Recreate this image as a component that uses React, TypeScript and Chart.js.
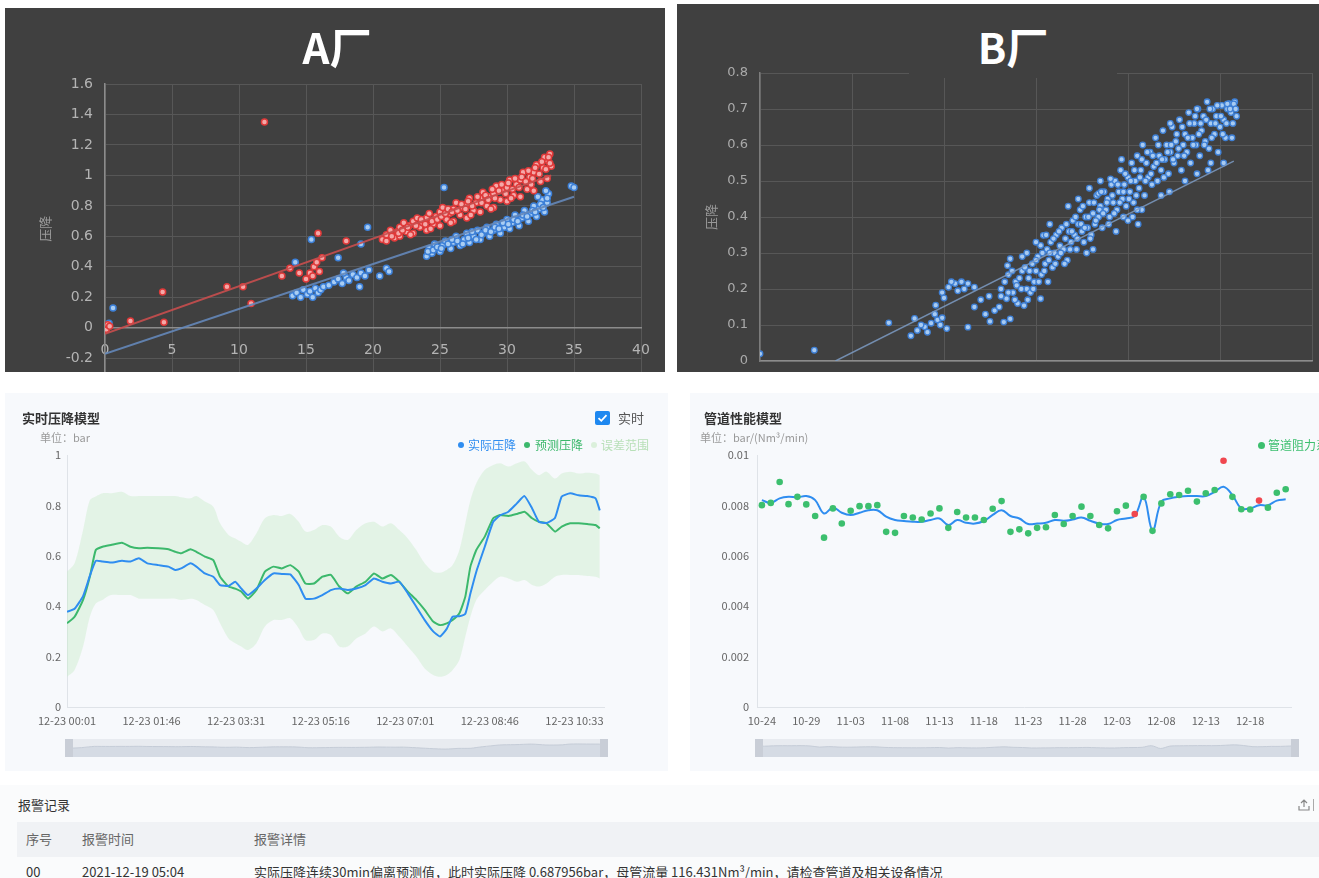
import React, { useEffect, useRef } from 'react';
import { Chart, registerables } from 'chart.js';

Chart.register(...registerables);

type P = [number, number];
const xy = (pts: P[]) => pts.map(([x, y]) => ({ x, y }));
const CJK = '"Noto Sans CJK SC", "Noto Sans", sans-serif';
const NUM = '"DejaVu Sans", sans-serif';

// ---------------- A厂 ----------------
const aYTicks = [-0.2, 0, 0.2, 0.4, 0.6, 0.8, 1, 1.2, 1.4, 1.6];
const aYLabels = ['-0.2', '0', '0.2', '0.4', '0.6', '0.8', '1', '1.2', '1.4', '1.6'];
const aRedPoints: P[] = [
  [0, 0], [0.1, -0.01], [0.2, 0.02], [0.35, 0.01], [1.9, 0.045], [4.3, 0.235], [4.4, 0.037], [9.1, 0.27],
  [10.3, 0.27], [10.9, 0.16], [11.9, 1.35], [13.2, 0.34], [13.8, 0.39], [14.5, 0.36], [15.0, 0.32], [15.3, 0.36],
  [15.5, 0.34], [15.6, 0.4], [15.8, 0.43], [15.9, 0.62], [16.2, 0.46], [16.0, 0.37], [18.0, 0.57], [20.7, 0.58],
  [21, 0.57], [21, 0.61], [21.3, 0.64], [21.6, 0.59], [21.8, 0.63], [22, 0.6], [22, 0.66], [22.3, 0.69],
  [22.5, 0.63], [22.7, 0.67], [23, 0.62], [23, 0.7], [23.3, 0.72], [23.5, 0.66], [23.7, 0.69], [24, 0.64],
  [24, 0.72], [24.2, 0.75], [24.5, 0.68], [24.7, 0.73], [25, 0.67], [25, 0.76], [25.2, 0.79], [25.5, 0.71],
  [25.7, 0.75], [26, 0.7], [26, 0.78], [26.2, 0.82], [26.5, 0.74], [26.7, 0.79], [27, 0.72], [27, 0.81],
  [27.2, 0.85], [27.5, 0.77], [27.7, 0.82], [28, 0.76], [28, 0.85], [28.2, 0.89], [28.5, 0.8], [28.7, 0.86],
  [29, 0.79], [29, 0.88], [29.2, 0.93], [29.5, 0.84], [29.7, 0.9], [30, 0.83], [30, 0.92], [30.2, 0.97],
  [30.5, 0.87], [30.7, 0.94], [31, 0.86], [31, 0.97], [31.2, 1.02], [31.5, 0.91], [31.7, 0.99], [32, 0.9],
  [32, 1.02], [32.2, 1.07], [32.5, 0.96], [32.7, 1.05], [33, 0.98], [33, 1.1], [33.2, 1.14], [33.3, 1.06],
  [32.8, 1.12], [31.8, 0.94], [30.3, 0.85], [28.8, 0.78], [27.3, 0.74], [25.8, 0.69], [24.3, 0.65], [22.8, 0.61],
  [21.4, 0.6], [21.9, 0.62], [22.2, 0.64], [22.6, 0.66], [23.2, 0.67], [23.6, 0.71], [23.9, 0.68], [24.4, 0.7],
  [24.8, 0.71], [25.1, 0.73], [25.4, 0.75], [25.6, 0.78], [25.9, 0.76], [26.3, 0.77], [26.6, 0.81], [26.9, 0.78],
  [27.1, 0.83], [27.4, 0.8], [27.8, 0.86], [28.1, 0.82], [28.4, 0.87], [28.6, 0.84], [28.9, 0.91], [29.1, 0.85],
  [29.4, 0.9], [29.6, 0.94], [29.9, 0.88], [30.1, 0.95], [30.4, 0.91], [30.6, 0.98], [30.9, 0.92], [31.1, 0.99],
  [31.4, 0.96], [31.6, 1.03], [31.9, 0.98], [32.1, 1.05], [32.4, 1.01], [32.6, 1.09], [32.9, 1.04], [33.1, 1.12],
  [33.2, 1.08],
];
const aBluePoints: P[] = [
  [0.6, 0.13], [0.3, 0.03], [14.2, 0.43], [15.4, 0.58], [14.0, 0.21], [14.3, 0.23], [14.6, 0.2], [14.8, 0.25],
  [15.1, 0.22], [15.3, 0.24], [15.5, 0.2], [15.7, 0.26], [15.9, 0.23], [16.1, 0.25], [16.3, 0.27], [16.7, 0.28],
  [17.4, 0.46], [17.1, 0.3], [17.4, 0.32], [17.7, 0.29], [18, 0.33], [18.2, 0.31], [18.5, 0.35], [18.8, 0.33],
  [19.1, 0.36], [19.4, 0.34], [19.7, 0.38], [17.8, 0.36], [19, 0.27], [19.1, 0.55], [19.6, 0.66], [20.5, 0.34],
  [21, 0.39], [21.2, 0.37],
  [24, 0.47], [24.2, 0.52], [24.4, 0.49], [24.6, 0.55], [25, 0.5], [25.2, 0.54], [25.4, 0.57], [25.3, 0.92],
  [25.8, 0.52], [26, 0.56], [26.2, 0.6], [26.5, 0.54], [26.8, 0.58], [27, 0.62], [27.2, 0.56], [27.5, 0.6],
  [27.8, 0.64], [28, 0.58], [28.2, 0.62], [28.5, 0.66], [28.7, 0.6], [29, 0.64], [29.2, 0.68], [29.5, 0.62],
  [29.8, 0.66], [30, 0.71], [30.2, 0.65], [30.4, 0.69], [30.6, 0.74], [30.9, 0.67], [31.1, 0.72], [31.3, 0.77],
  [31.6, 0.7], [31.8, 0.75], [32, 0.8], [32.2, 0.73], [32.4, 0.78], [32.6, 0.84], [32.8, 0.76], [33, 0.82],
  [33.1, 0.88], [32.9, 0.9], [34.8, 0.93], [35, 0.92],
  [24.1, 0.5], [24.5, 0.51], [24.8, 0.53], [25.1, 0.52], [25.6, 0.55], [25.9, 0.58], [26.3, 0.57], [26.7, 0.55],
  [27.1, 0.59], [27.4, 0.63], [27.7, 0.58], [28.1, 0.61], [28.4, 0.64], [28.8, 0.63], [29.1, 0.66], [29.4, 0.65],
  [29.7, 0.69], [30.1, 0.68], [30.5, 0.71], [30.8, 0.7], [31.2, 0.74], [31.5, 0.73], [31.9, 0.77], [32.1, 0.76],
  [32.5, 0.81], [32.7, 0.79], [33.0, 0.85], [32.3, 0.86],
];
const aRedTrend: P[] = [[0, -0.04], [33.3, 1.0]];
const aBlueTrend: P[] = [[0, -0.17], [35, 0.86]];

// ---------------- B厂 ----------------
const bPoints: P[] = [
  [0, 0.02], [0.59, 0.03], [1.4, 0.106], [1.68, 0.118], [1.91, 0.155], [1.64, 0.07], [1.71, 0.085], [1.79, 0.095],
  [1.86, 0.105], [1.93, 0.114], [1.98, 0.12], [2.03, 0.09], [1.82, 0.08], [1.96, 0.1], [1.75, 0.1], [1.9, 0.13],
  [2.26, 0.094], [1.98, 0.19], [2.05, 0.205], [2.12, 0.215], [2.19, 0.22], [2.26, 0.215], [2.33, 0.205], [2.15, 0.195],
  [2.0, 0.175], [2.08, 0.22], [2.22, 0.2], [2.33, 0.15], [2.4, 0.17], [2.49, 0.18], [2.45, 0.13], [2.5, 0.11], [2.55, 0.14],
  [2.6, 0.15], [2.62, 0.2], [2.65, 0.108], [2.68, 0.173], [2.7, 0.24], [2.72, 0.117], [2.72, 0.284], [2.69, 0.265],
  [2.75, 0.19], [2.78, 0.22], [2.79, 0.21], [2.8, 0.16], [2.85, 0.25], [2.87, 0.154], [2.9, 0.2], [2.92, 0.23],
  [2.94, 0.19], [2.96, 0.27], [2.98, 0.22], [3.0, 0.25], [3.02, 0.29], [3.05, 0.173], [3.05, 0.321], [3.08, 0.349],
  [3.06, 0.24], [3.1, 0.27], [3.12, 0.31], [3.14, 0.28], [3.16, 0.33], [3.18, 0.26], [3.2, 0.3], [3.22, 0.35],
  [3.24, 0.29], [3.26, 0.32], [3.28, 0.37], [3.3, 0.31], [3.32, 0.34], [3.34, 0.28], [3.36, 0.36], [3.38, 0.33],
  [3.4, 0.39], [3.42, 0.35], [3.44, 0.31], [3.46, 0.38], [3.48, 0.42], [3.5, 0.36], [3.52, 0.33], [3.54, 0.4],
  [3.56, 0.37], [3.58, 0.44], [3.6, 0.35], [3.62, 0.41], [3.64, 0.38], [3.66, 0.46], [3.68, 0.4], [3.7, 0.43],
  [3.72, 0.37], [3.74, 0.47], [3.76, 0.42], [3.78, 0.45], [3.8, 0.4], [3.82, 0.49], [3.84, 0.44], [3.86, 0.5],
  [3.88, 0.42], [3.9, 0.47], [3.92, 0.53], [3.94, 0.45], [3.96, 0.49], [3.98, 0.43], [4.0, 0.51], [4.02, 0.47],
  [4.04, 0.55], [4.06, 0.44], [4.08, 0.5], [4.1, 0.57], [4.12, 0.48], [4.14, 0.53], [4.16, 0.6], [4.18, 0.46],
  [4.2, 0.55], [4.22, 0.51], [4.24, 0.58], [4.26, 0.49], [4.28, 0.54], [4.3, 0.62], [4.32, 0.5], [4.34, 0.57],
  [4.36, 0.53], [4.38, 0.64], [4.4, 0.56], [4.42, 0.6], [4.44, 0.52], [4.46, 0.58], [4.48, 0.65], [4.5, 0.55],
  [4.52, 0.61], [4.54, 0.57], [4.56, 0.67], [4.58, 0.53], [4.6, 0.6], [4.62, 0.63], [4.64, 0.58], [4.66, 0.69],
  [4.68, 0.55], [4.7, 0.62], [4.72, 0.66], [4.74, 0.6], [4.76, 0.7], [4.78, 0.57], [4.8, 0.64], [4.82, 0.68],
  [4.84, 0.61], [4.86, 0.72], [4.88, 0.59], [4.9, 0.66], [4.92, 0.7], [4.94, 0.63], [4.96, 0.68], [4.98, 0.58],
  [5.0, 0.65], [5.02, 0.71], [5.04, 0.67], [5.06, 0.62], [5.08, 0.7], [5.1, 0.715], [5.12, 0.69], [5.14, 0.66],
  [5.16, 0.72], [5.18, 0.68], [5.04, 0.55], [3.35, 0.43], [3.58, 0.48], [3.93, 0.56], [4.05, 0.4], [3.7, 0.5],
  [4.45, 0.47], [4.75, 0.52], [4.9, 0.55], [3.15, 0.38], [3.0, 0.33], [2.9, 0.3], [3.55, 0.3], [4.15, 0.42],
  [4.0, 0.39], [3.95, 0.4], [4.1, 0.42], [3.81, 0.506], [3.68, 0.465], [4.46, 0.66], [4.75, 0.7], [5.08, 0.714],
  [5.15, 0.714],
  [2.62, 0.18], [2.66, 0.22], [2.7, 0.19], [2.74, 0.25], [2.77, 0.17], [2.82, 0.23], [2.84, 0.2], [2.88, 0.26],
  [2.91, 0.17], [2.93, 0.25], [2.97, 0.2], [3.0, 0.28], [3.03, 0.22], [3.07, 0.3], [3.09, 0.25], [3.13, 0.22],
  [3.15, 0.3], [3.19, 0.34], [3.21, 0.27], [3.25, 0.36], [3.27, 0.3], [3.31, 0.27], [3.33, 0.38], [3.37, 0.31],
  [3.39, 0.36], [3.43, 0.4], [3.45, 0.34], [3.49, 0.38], [3.51, 0.43], [3.53, 0.37], [3.57, 0.4], [3.59, 0.34],
  [3.63, 0.44], [3.65, 0.39], [3.69, 0.42], [3.71, 0.47], [3.73, 0.41], [3.77, 0.44], [3.79, 0.38], [3.83, 0.46],
  [3.85, 0.41], [3.89, 0.49], [3.91, 0.44], [3.95, 0.47], [3.97, 0.52], [4.01, 0.45], [4.03, 0.5], [4.07, 0.53],
  [4.09, 0.46], [4.13, 0.51], [4.15, 0.56], [4.19, 0.5], [4.21, 0.58], [4.25, 0.52], [4.27, 0.57], [4.31, 0.55],
  [4.33, 0.6], [4.37, 0.56], [4.39, 0.51], [4.43, 0.58], [4.47, 0.6], [4.49, 0.56], [4.53, 0.63], [4.55, 0.59],
  [4.59, 0.65], [4.61, 0.57], [4.65, 0.62], [4.67, 0.66], [4.71, 0.6], [4.73, 0.68], [4.77, 0.63], [4.79, 0.66],
  [4.83, 0.6], [4.85, 0.67], [4.89, 0.7], [4.91, 0.62], [4.95, 0.66], [4.97, 0.71], [5.01, 0.68], [5.03, 0.63],
  [5.07, 0.66], [5.11, 0.7], [5.13, 0.62], [5.17, 0.7], [3.46, 0.45], [3.62, 0.31], [3.87, 0.36], [4.11, 0.38],
  [4.36, 0.46], [4.62, 0.5], [4.87, 0.53], [2.85, 0.29], [3.11, 0.35],
];
const bTrend: P[] = [[0.82, 0], [5.15, 0.555]];

// ---------------- 实时压降模型 ----------------
const rtSampleX = [
  0, 0.9, 1.9, 2.7, 3.4, 4.2, 5.2, 6.5, 7.5, 8.5,
  9.5, 10.8, 12, 12.8, 13.5, 14.6, 15.3, 16.3, 17.3, 18.1,
  19.1, 19.9, 20.6, 21.4, 22.4, 23.4, 24.4, 25.4, 26.4, 27.4,
  28.2, 29.2, 30.2, 31.2, 32.2, 33.2, 34.2, 35.3, 36.3, 37.3,
  38.3, 39.3, 40.3, 41.3, 42.3, 43.3, 44.1, 44.9, 45.6, 46.4,
  47.1, 47.7, 48.4, 49.4, 50.4, 51.2, 52.2, 53.2, 54.1, 55,
  55.8, 56.7, 57.7, 58.5, 59.5, 60.5, 61.5, 62.5, 63,
];
const rtActual = [
  0.378, 0.39, 0.44, 0.52, 0.58, 0.577, 0.573, 0.58, 0.577, 0.59,
  0.57, 0.563, 0.557, 0.544, 0.55, 0.57, 0.557, 0.53, 0.517, 0.484,
  0.48, 0.497, 0.47, 0.444, 0.47, 0.504, 0.53, 0.528, 0.526, 0.484,
  0.43, 0.43, 0.444, 0.464, 0.47, 0.464, 0.47, 0.484, 0.51, 0.497,
  0.49, 0.497, 0.451, 0.398, 0.345, 0.3, 0.28, 0.31, 0.358, 0.36,
  0.37, 0.45, 0.537, 0.636, 0.735, 0.76, 0.775, 0.808, 0.837, 0.788,
  0.735, 0.73, 0.75, 0.835, 0.848, 0.84, 0.837, 0.828, 0.78,
];
const rtPredicted = [
  0.332, 0.358, 0.425, 0.517, 0.623, 0.636, 0.643, 0.652, 0.636, 0.63,
  0.632, 0.63, 0.626, 0.616, 0.61, 0.626, 0.616, 0.597, 0.583, 0.517,
  0.478, 0.47, 0.458, 0.43, 0.464, 0.537, 0.557, 0.55, 0.563, 0.537,
  0.49, 0.49, 0.517, 0.524, 0.478, 0.451, 0.478, 0.497, 0.53, 0.51,
  0.524, 0.497, 0.458, 0.425, 0.385, 0.339, 0.325, 0.332, 0.345, 0.372,
  0.438, 0.557, 0.623, 0.676, 0.749, 0.762, 0.758, 0.766, 0.775, 0.749,
  0.735, 0.729, 0.696, 0.716, 0.729, 0.729, 0.726, 0.722, 0.709,
];
const rtBandUpper = [
  0.537, 0.57, 0.702, 0.82, 0.835, 0.848, 0.848, 0.854, 0.837, 0.837,
  0.837, 0.837, 0.837, 0.837, 0.832, 0.828, 0.837, 0.815, 0.795, 0.729,
  0.683, 0.669, 0.656, 0.643, 0.689, 0.749, 0.762, 0.758, 0.766, 0.735,
  0.696, 0.702, 0.722, 0.716, 0.676, 0.663, 0.702, 0.729, 0.735, 0.716,
  0.729, 0.702, 0.669, 0.623, 0.57, 0.537, 0.533, 0.544, 0.563, 0.623,
  0.729, 0.82, 0.888, 0.94, 0.96, 0.967, 0.954, 0.967, 0.974, 0.94,
  0.92, 0.934, 0.907, 0.927, 0.934, 0.927, 0.93, 0.927, 0.92,
];
const rtBandLower = [
  0.12, 0.147, 0.24, 0.358, 0.411, 0.425, 0.444, 0.444, 0.444, 0.43,
  0.43, 0.43, 0.43, 0.43, 0.425, 0.43, 0.425, 0.405, 0.385, 0.332,
  0.272, 0.253, 0.24, 0.226, 0.253, 0.319, 0.345, 0.345, 0.352, 0.312,
  0.266, 0.266, 0.292, 0.286, 0.24, 0.24, 0.272, 0.292, 0.319, 0.3,
  0.312, 0.279, 0.24, 0.2, 0.153, 0.127, 0.12, 0.127, 0.147, 0.187,
  0.279, 0.358, 0.425, 0.464, 0.497, 0.517, 0.51, 0.497, 0.504, 0.484,
  0.478, 0.49, 0.517, 0.524, 0.524, 0.524, 0.52, 0.517, 0.51,
];
const rtTickPos = [0, 10, 20, 30, 40, 50, 60];
const rtTickLabels = ['12-23 00:01', '12-23 01:46', '12-23 03:31', '12-23 05:16', '12-23 07:01', '12-23 08:46', '12-23 10:33'];
const rtYTicks = [0, 0.2, 0.4, 0.6, 0.8, 1];
const rtYLabels = ['0', '0.2', '0.4', '0.6', '0.8', '1'];

// ---------------- 管道性能模型 ----------------
const pipeResist = [
  0.00801, 0.0081, 0.00893, 0.00805, 0.00834, 0.00804, 0.00758, 0.00672, 0.00788, 0.00728,
  0.00779, 0.00797, 0.00797, 0.00801, 0.00695, 0.00691, 0.00758, 0.00752, 0.00744, 0.00768,
  0.00788, 0.00711, 0.00774, 0.00752, 0.00752, 0.00742, 0.00787, 0.00817, 0.00695, 0.00705,
  0.00689, 0.00711, 0.00713, 0.00762, 0.00726, 0.00758, 0.00795, 0.00758, 0.00722, 0.00709,
  0.00777, 0.00799, 0.00766, 0.00834, 0.00699, 0.00808, 0.00844, 0.00841, 0.00858, 0.00815,
  0.00848, 0.00861, 0.00977, 0.00834, 0.00785, 0.00784, 0.00819, 0.00791, 0.0085, 0.00864,
];
const pipeFit = [
  0.00821, 0.0081, 0.00828, 0.00834, 0.00832, 0.00837, 0.00821, 0.00768, 0.00792, 0.00771,
  0.00762, 0.00771, 0.00781, 0.00781, 0.00755, 0.00742, 0.00738, 0.00735, 0.00735, 0.00742,
  0.00748, 0.00722, 0.00742, 0.00731, 0.00728, 0.00738, 0.00762, 0.00781, 0.00758, 0.00748,
  0.00726, 0.00728, 0.00731, 0.00742, 0.00739, 0.00744, 0.00752, 0.00739, 0.00728, 0.00726,
  0.00742, 0.00748, 0.00758, 0.00834, 0.00702, 0.00815, 0.00828, 0.00834, 0.00837, 0.00837,
  0.00837, 0.00854, 0.00874, 0.00841, 0.00788, 0.00788, 0.00801, 0.00801, 0.00819, 0.00824,
];
const pipeAlarmDays = [42, 52, 56];
const pipeTickPos = [0, 5, 10, 15, 20, 25, 30, 35, 40, 45, 50, 55];
const pipeTickLabels = ['10-24', '10-29', '11-03', '11-08', '11-13', '11-18', '11-23', '11-28', '12-03', '12-08', '12-13', '12-18'];
const pipeYTicks = [0, 0.002, 0.004, 0.006, 0.008, 0.01];
const pipeYLabels = ['0', '0.002', '0.004', '0.006', '0.008', '0.01'];

// ---------------- 报警记录 ----------------
const alarmHeaders = ['序号', '报警时间', '报警详情'];
const alarmRow = ['00', '2021-12-19 05:04', '实际压降连续30min偏离预测值，此时实际压降 0.687956bar，母管流量 116.431Nm³/min，请检查管道及相关设备情况'];

// ---------------- configs ----------------
const fmt1 = (v: number) => String(Math.round(v * 10) / 10);
const fixYAxis = (w: number) => (s: any) => {
  s.width = w;
  s.paddingTop = 0;
  s.paddingBottom = 0;
};

const darkScatterConfig = (opts: any): any => ({
  type: 'scatter',
  data: { datasets: opts.datasets },
  options: {
    responsive: false,
    animation: false,
    events: [],
    layout: { padding: opts.padding },
    plugins: { legend: { display: false }, tooltip: { enabled: false } },
    scales: { x: opts.x, y: opts.y },
  },
});

const configA = () =>
  darkScatterConfig({
    padding: { left: 0, top: 76, right: 24, bottom: 0 },
    datasets: [
      { data: xy(aRedTrend), showLine: true, borderColor: 'rgba(200,78,78,0.9)', borderWidth: 2, pointRadius: 0, order: 0 },
      { data: xy(aBlueTrend), showLine: true, borderColor: 'rgba(100,135,185,0.9)', borderWidth: 2, pointRadius: 0, order: 0 },
      { data: xy(aBluePoints), backgroundColor: '#a9cdf3', borderColor: '#3d80d8', borderWidth: 1.5, pointRadius: 3, order: 2 },
      { data: xy(aRedPoints), backgroundColor: '#f5a8a8', borderColor: '#e03a3a', borderWidth: 1.5, pointRadius: 3, order: 1 },
    ],
    x: {
      type: 'linear', position: { y: 0 }, min: 0, max: 40,
      afterFit: (s: any) => { s.height = 0; },
      ticks: { stepSize: 5, color: '#b4b4b4', font: { family: NUM, size: 14 }, padding: 14, maxRotation: 0 },
      grid: { color: '#575757', drawTicks: false },
      border: { color: '#8c8c8c', width: 1.5 },
    },
    y: {
      type: 'linear', min: -0.3, max: 1.6,
      afterBuildTicks: (s: any) => { s.ticks = aYTicks.map((v) => ({ value: v })); },
      afterFit: fixYAxis(100),
      ticks: { color: '#b4b4b4', font: { family: NUM, size: 14 }, padding: 12, callback: (v: number) => aYLabels[aYTicks.indexOf(v)] },
      grid: { color: '#575757', drawTicks: false },
      border: { color: '#8c8c8c', width: 1.5 },
      title: { display: true, text: '压降', color: '#9a9a9a', font: { family: CJK, size: 13 }, padding: { top: 32, bottom: 0 } },
    },
  });

const configB = () =>
  darkScatterConfig({
    padding: { left: 0, top: 69, right: 7, bottom: 11 },
    datasets: [
      { data: xy(bTrend), showLine: true, borderColor: 'rgba(125,155,195,0.85)', borderWidth: 1.5, pointRadius: 0, order: 0 },
      { data: xy(bPoints), backgroundColor: '#a8cbf2', borderColor: '#3f80d6', borderWidth: 1.3, pointRadius: 2.8, order: 1 },
    ],
    x: {
      type: 'linear', position: 'bottom', min: 0, max: 6,
      afterFit: (s: any) => { s.height = 0; },
      ticks: { stepSize: 1, display: false },
      grid: { color: '#575757', drawTicks: false },
      border: { color: '#8c8c8c', width: 1.5 },
    },
    y: {
      type: 'linear', min: 0, max: 0.8,
      afterFit: fixYAxis(83),
      ticks: { stepSize: 0.1, color: '#aaaaaa', font: { family: NUM, size: 13 }, padding: 12, callback: (v: number) => fmt1(v) },
      grid: { color: '#575757', drawTicks: false },
      border: { color: '#7c7c7c', width: 1.5 },
      title: { display: true, text: '压降', color: '#999999', font: { family: CJK, size: 13 }, padding: { top: 26, bottom: 0 } },
    },
  });

const configRT = () => ({
  type: 'line',
  data: {
    datasets: [
      { label: '误差范围', data: rtSampleX.map((x, i) => ({ x, y: rtBandUpper[i] })), fill: '+1', backgroundColor: 'rgba(200,236,200,0.42)', borderWidth: 0, pointRadius: 0, tension: 0.3, order: 3 },
      { label: '误差下限', data: rtSampleX.map((x, i) => ({ x, y: rtBandLower[i] })), fill: false, borderWidth: 0, pointRadius: 0, tension: 0.3, order: 3 },
      { label: '预测压降', data: rtSampleX.map((x, i) => ({ x, y: rtPredicted[i] })), fill: false, borderColor: '#3cb86c', borderWidth: 2, pointRadius: 0, tension: 0.15, order: 2 },
      { label: '实际压降', data: rtSampleX.map((x, i) => ({ x, y: rtActual[i] })), fill: false, borderColor: '#2f8df0', borderWidth: 2, pointRadius: 0, tension: 0.15, order: 1 },
    ],
  },
  options: {
    responsive: false,
    animation: false,
    events: [],
    layout: { padding: { left: 0, top: 62, right: 64, bottom: 38 } },
    plugins: { legend: { display: false }, tooltip: { enabled: false } },
    scales: {
      x: {
        type: 'linear', min: 0, max: 63.5,
        afterBuildTicks: (s: any) => { s.ticks = rtTickPos.map((v) => ({ value: v })); },
        afterFit: (s: any) => { s.height = 25; },
        ticks: { autoSkip: false, maxRotation: 0, color: '#666', font: { family: CJK, size: 11 }, padding: 7, callback: (v: number) => rtTickLabels[rtTickPos.indexOf(v)] },
        grid: { display: false, drawTicks: false },
        border: { color: '#dfe3e8' },
      },
      y: {
        type: 'linear', min: 0, max: 1,
        afterBuildTicks: (s: any) => { s.ticks = rtYTicks.map((v) => ({ value: v })); },
        afterFit: fixYAxis(62),
        ticks: { color: '#666', font: { family: CJK, size: 11 }, padding: 6, callback: (v: number) => rtYLabels[rtYTicks.indexOf(v)] },
        grid: { display: false, drawTicks: false },
        border: { color: '#dfe3e8' },
      },
    },
  },
});

const configPipe = () => ({
  type: 'line',
  data: {
    datasets: [
      { label: '拟合', data: pipeFit.map((y, i) => ({ x: i, y })), fill: false, borderColor: '#2f8df0', borderWidth: 2, pointRadius: 0, tension: 0.4, order: 2 },
      {
        label: '管道阻力系数', data: pipeResist.map((y, i) => ({ x: i, y })), showLine: false, pointRadius: 3.3, pointBorderWidth: 0,
        pointBackgroundColor: pipeResist.map((_, i) => (pipeAlarmDays.includes(i) ? '#f0474f' : '#3cbf6e')), order: 1,
      },
    ],
  },
  options: {
    responsive: false,
    animation: false,
    events: [],
    layout: { padding: { left: 0, top: 62, right: 28, bottom: 38 } },
    plugins: { legend: { display: false }, tooltip: { enabled: false } },
    scales: {
      x: {
        type: 'linear', min: -0.55, max: 59.6,
        afterBuildTicks: (s: any) => { s.ticks = pipeTickPos.map((v) => ({ value: v })); },
        afterFit: (s: any) => { s.height = 25; },
        ticks: { autoSkip: false, maxRotation: 0, color: '#666', font: { family: CJK, size: 11 }, padding: 7, callback: (v: number) => pipeTickLabels[pipeTickPos.indexOf(v)] },
        grid: { display: false, drawTicks: false },
        border: { color: '#dfe3e8' },
      },
      y: {
        type: 'linear', min: 0, max: 0.01,
        afterBuildTicks: (s: any) => { s.ticks = pipeYTicks.map((v) => ({ value: v })); },
        afterFit: fixYAxis(67),
        ticks: { color: '#666', font: { family: CJK, size: 11 }, padding: 8, callback: (v: number) => pipeYLabels[pipeYTicks.indexOf(v)] },
        grid: { display: false, drawTicks: false },
        border: { color: '#dfe3e8' },
      },
    },
  },
});

const miniConfig = (xs: number[], ys: number[], min: number, max: number, xMax: number) => () => ({
  type: 'line',
  data: { datasets: [{ data: xs.map((x, i) => ({ x, y: ys[i] })), fill: 'start', backgroundColor: '#d5dbe4', borderColor: '#c5ccd7', borderWidth: 1, pointRadius: 0, tension: 0.3 }] },
  options: {
    responsive: false, animation: false, events: [],
    layout: { padding: 0 },
    plugins: { legend: { display: false }, tooltip: { enabled: false } },
    scales: {
      x: { type: 'linear', display: false, min: xs[0], max: xMax },
      y: { type: 'linear', display: false, min, max },
    },
  },
});

function ChartCanvas({ left, top, width, height, config }: any) {
  const ref = useRef<HTMLCanvasElement>(null);
  useEffect(() => {
    const chart = new Chart(ref.current as HTMLCanvasElement, config() as any);
    return () => chart.destroy();
  }, []);
  return (
    <canvas
      ref={ref}
      width={width}
      height={height}
      style={{ position: 'absolute', left, top, width, height, display: 'block' }}
    />
  );
}

const abs = (left: number, top: number, extra: any = {}): any => ({ position: 'absolute', left, top, ...extra });

function Slider({ left, top, width, config }: any) {
  return (
    <div style={abs(left, top, { width, height: 18, background: '#e8ebf0', overflow: 'hidden' })}>
      <ChartCanvas left={0} top={0} width={width} height={18} config={config} />
      <div style={abs(0, 0, { width: 8, height: 18, background: '#c9ced7' })} />
      <div style={abs(width - 8, 0, { width: 8, height: 18, background: '#c9ced7' })} />
    </div>
  );
}

export default function App() {
  const pipeX = pipeFit.map((_, i) => i);
  return (
    <div style={abs(0, 0, { width: 1319, height: 878, overflow: 'hidden', background: '#ffffff', fontFamily: CJK })}>
      {/* A厂 */}
      <div style={abs(5, 8, { width: 660, height: 364, background: '#404040', overflow: 'hidden' })}>
        <ChartCanvas left={0} top={0} width={660} height={371} config={configA} />
        <div style={abs(232, 10, { width: 200, height: 56, lineHeight: '56px', textAlign: 'center', color: '#ffffff', fontSize: 42, fontWeight: 700 })}>A厂</div>
      </div>

      {/* B厂 */}
      <div style={abs(677, 4, { width: 642, height: 368, background: '#404040', overflow: 'hidden' })}>
        <ChartCanvas left={0} top={0} width={642} height={368} config={configB} />
        <div style={abs(232, 10, { width: 208, height: 64, background: '#404040' })} />
        <div style={abs(236, 14, { width: 200, height: 56, lineHeight: '56px', textAlign: 'center', color: '#ffffff', fontSize: 42, fontWeight: 700 })}>B厂</div>
      </div>

      {/* 实时压降模型 */}
      <div style={abs(5, 393, { width: 663, height: 378, background: '#f7f9fc', overflow: 'hidden' })}>
        <ChartCanvas left={0} top={0} width={663} height={377} config={configRT} />
        <div style={abs(17, 16, { fontSize: 13, fontWeight: 700, color: '#333', lineHeight: '18px', whiteSpace: 'nowrap' })}>实时压降模型</div>
        <div style={abs(35, 36, { fontSize: 11, color: '#9a9a9a', lineHeight: '16px', whiteSpace: 'nowrap' })}>单位：bar</div>
        <div style={abs(590, 18, { width: 15, height: 14, background: '#1e88f0', borderRadius: 2 })}>
          <svg width="15" height="14" viewBox="0 0 15 14" style={{ display: 'block' }}>
            <path d="M3.5 7.2 L6.3 9.8 L11.5 4.2" stroke="#fff" strokeWidth="1.8" fill="none" />
          </svg>
        </div>
        <div style={abs(613, 16, { fontSize: 13, color: '#555', lineHeight: '18px', whiteSpace: 'nowrap' })}>实时</div>
        <div style={abs(453, 49, { width: 6, height: 6, borderRadius: 3, background: '#2f8df0' })} />
        <div style={abs(463, 44, { fontSize: 12, color: '#2f8df0', lineHeight: '16px', whiteSpace: 'nowrap' })}>实际压降</div>
        <div style={abs(519, 49, { width: 6, height: 6, borderRadius: 3, background: '#3cb86c' })} />
        <div style={abs(530, 44, { fontSize: 12, color: '#3cb86c', lineHeight: '16px', whiteSpace: 'nowrap' })}>预测压降</div>
        <div style={abs(586, 49, { width: 6, height: 6, borderRadius: 3, background: '#dbf0db' })} />
        <div style={abs(596, 44, { fontSize: 12, color: '#b8e0b8', lineHeight: '16px', whiteSpace: 'nowrap' })}>误差范围</div>
      </div>
      <Slider left={65} top={739} width={543} config={miniConfig(rtSampleX, rtActual, -0.6, 1.4, 63)} />

      {/* 管道性能模型 */}
      <div style={abs(690, 393, { width: 629, height: 378, background: '#f7f9fc', overflow: 'hidden' })}>
        <ChartCanvas left={0} top={0} width={629} height={377} config={configPipe} />
        <div style={abs(14, 16, { fontSize: 13, fontWeight: 700, color: '#333', lineHeight: '18px', whiteSpace: 'nowrap' })}>管道性能模型</div>
        <div style={abs(10, 36, { fontSize: 11, color: '#9a9a9a', lineHeight: '16px', whiteSpace: 'nowrap' })}>单位：bar/(Nm³/min)</div>
        <div style={abs(568, 49, { width: 7, height: 7, borderRadius: 4, background: '#3cbf6e' })} />
        <div style={abs(578, 44, { fontSize: 12, color: '#3cbf6e', lineHeight: '16px', whiteSpace: 'nowrap' })}>管道阻力系数</div>
      </div>
      <Slider left={755} top={739} width={544} config={miniConfig(pipeX, pipeFit, 0.003, 0.0115, 59)} />

      {/* 报警记录 */}
      <div style={abs(0, 785, { width: 1319, height: 93, background: '#fafbfc' })}>
        <div style={abs(18, 11, { fontSize: 13, color: '#333', lineHeight: '18px', whiteSpace: 'nowrap' })}>报警记录</div>
        <svg width="12" height="12" viewBox="0 0 12 12" style={abs(1298, 14)}>
          <path d="M6 1 L6 8 M3 4 L6 1 L9 4 M1 7 L1 11 L11 11 L11 7" stroke="#888" strokeWidth="1.2" fill="none" />
        </svg>
        <div style={abs(1313, 14, { width: 6, height: 12, borderLeft: '1.5px solid #aaa' })} />
        <div style={abs(17, 37, { width: 1302, height: 35, background: '#f0f2f5' })} />
        <div style={abs(26, 45, { fontSize: 13, color: '#666', lineHeight: '18px', whiteSpace: 'nowrap' })}>{alarmHeaders[0]}</div>
        <div style={abs(82, 45, { fontSize: 13, color: '#666', lineHeight: '18px', whiteSpace: 'nowrap' })}>{alarmHeaders[1]}</div>
        <div style={abs(254, 45, { fontSize: 13, color: '#666', lineHeight: '18px', whiteSpace: 'nowrap' })}>{alarmHeaders[2]}</div>
        <div style={abs(26, 78, { fontSize: 13, color: '#333', lineHeight: '18px', whiteSpace: 'nowrap' })}>{alarmRow[0]}</div>
        <div style={abs(82, 78, { fontSize: 13, color: '#333', lineHeight: '18px', whiteSpace: 'nowrap' })}>{alarmRow[1]}</div>
        <div style={abs(254, 78, { fontSize: 13, color: '#333', lineHeight: '18px', whiteSpace: 'nowrap' })}>{alarmRow[2]}</div>
      </div>
    </div>
  );
}
